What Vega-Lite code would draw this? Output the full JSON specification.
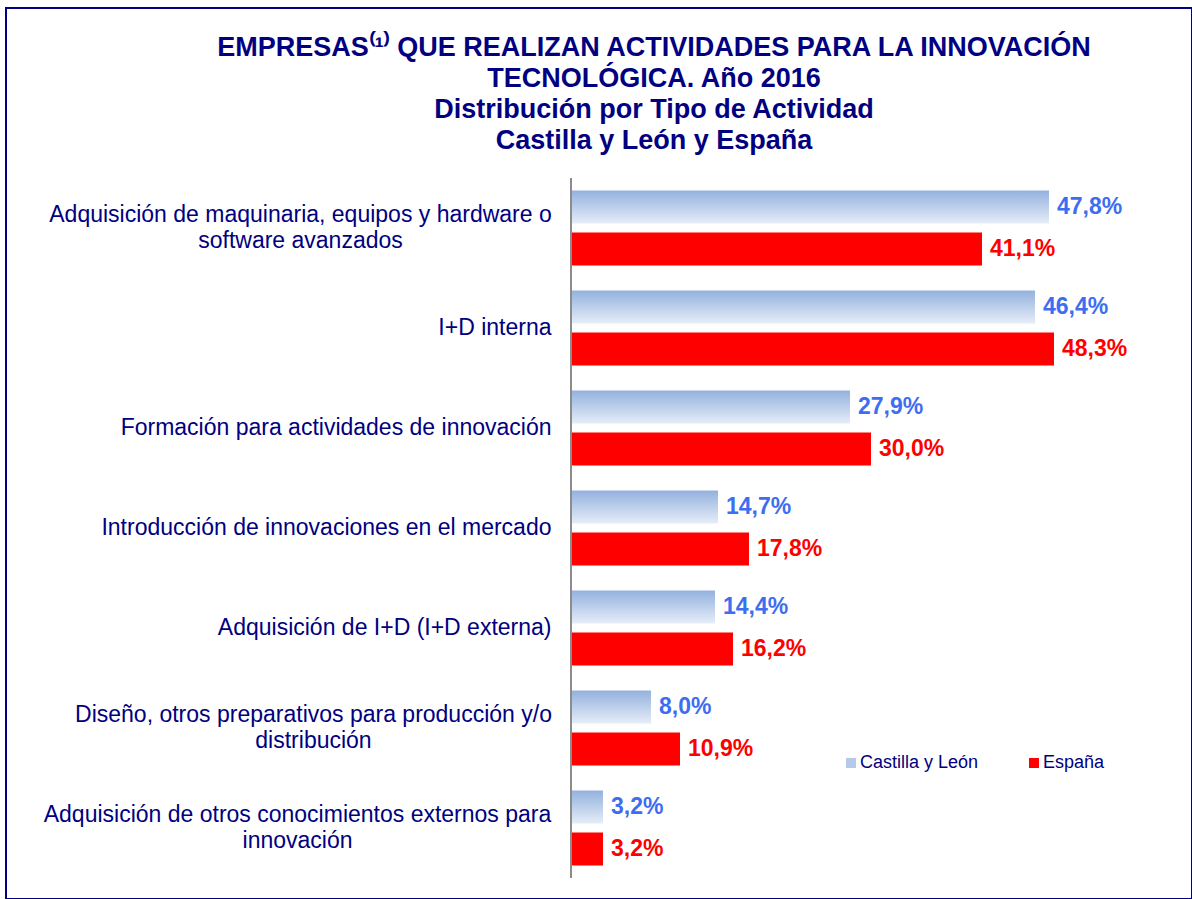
{
  "$schema": "https://vega.github.io/schema/vega-lite/v6.json",
  "width": 1186,
  "height": 891,
  "autosize": {"type": "none"},
  "padding": {"left": 6, "top": 8, "right": 0, "bottom": 0},
  "background": "white",
  "config": {
    "view": {"stroke": "#000080", "strokeWidth": 2},
    "font": "Liberation Sans",
    "locale": {"number": {"decimal": ",", "thousands": ".", "grouping": [3], "currency": ["", " €"]}}
  },
  "title": {
    "text": ["EMPRESAS⁽¹⁾ QUE REALIZAN ACTIVIDADES PARA LA INNOVACIÓN", "TECNOLÓGICA. Año 2016", "Distribución por Tipo de Actividad", "Castilla y León y España"],
    "anchor": "middle",
    "frame": "group",
    "dx": 55,
    "offset": -147,
    "fontSize": 27,
    "fontWeight": "bold",
    "color": "#000080",
    "lineHeight": 31,
    "font": "Liberation Sans"
  },
  "data": {
    "values": [
      {"actividad": "Adquisición de maquinaria, equipos y hardware o|software avanzados", "serie": "Castilla y León", "valor": 0.478},
      {"actividad": "Adquisición de maquinaria, equipos y hardware o|software avanzados", "serie": "España", "valor": 0.411},
      {"actividad": "I+D interna", "serie": "Castilla y León", "valor": 0.464},
      {"actividad": "I+D interna", "serie": "España", "valor": 0.483},
      {"actividad": "Formación para actividades de innovación", "serie": "Castilla y León", "valor": 0.279},
      {"actividad": "Formación para actividades de innovación", "serie": "España", "valor": 0.300},
      {"actividad": "Introducción de innovaciones en el mercado", "serie": "Castilla y León", "valor": 0.147},
      {"actividad": "Introducción de innovaciones en el mercado", "serie": "España", "valor": 0.178},
      {"actividad": "Adquisición de I+D (I+D externa)", "serie": "Castilla y León", "valor": 0.144},
      {"actividad": "Adquisición de I+D (I+D externa)", "serie": "España", "valor": 0.162},
      {"actividad": "Diseño, otros preparativos para producción y/o|distribución", "serie": "Castilla y León", "valor": 0.080},
      {"actividad": "Diseño, otros preparativos para producción y/o|distribución", "serie": "España", "valor": 0.109},
      {"actividad": "Adquisición de otros conocimientos externos para|innovación", "serie": "Castilla y León", "valor": 0.032},
      {"actividad": "Adquisición de otros conocimientos externos para|innovación", "serie": "España", "valor": 0.032}
    ]
  },
  "encoding": {
    "y": {
      "field": "actividad",
      "type": "nominal",
      "scale": {
        "domain": [
          "Adquisición de maquinaria, equipos y hardware o|software avanzados",
          "I+D interna",
          "Formación para actividades de innovación",
          "Introducción de innovaciones en el mercado",
          "Adquisición de I+D (I+D externa)",
          "Diseño, otros preparativos para producción y/o|distribución",
          "Adquisición de otros conocimientos externos para|innovación"
        ],
        "paddingInner": 0,
        "paddingOuter": 0.955,
        "align": 0.89
      },
      "axis": {
        "title": null,
        "orient": "left",
        "offset": -565,
        "domain": false,
        "ticks": false,
        "tickSize": 0,
        "grid": false,
        "labelExpr": "split(datum.label, '|')",
        "labelFontSize": 23,
        "labelFont": "Liberation Sans",
        "labelColor": "#000080",
        "labelLineHeight": 26,
        "labelLimit": 700,
        "labelOverlap": false,
        "labelBaseline": "middle",
        "labelAlign": {"condition": {"test": "indexof(datum.value, '|') >= 0", "value": "center"}, "value": "right"},
        "labelOffset": {"condition": {"test": "indexof(datum.value, '|') >= 0", "value": -13}, "value": 0},
        "labelPadding": {
          "condition": [
            {"test": "indexof(datum.value, 'maquinaria') >= 0", "value": 271},
            {"test": "indexof(datum.value, 'preparativos') >= 0", "value": 258},
            {"test": "indexof(datum.value, 'conocimientos') >= 0", "value": 274}
          ],
          "value": 20
        }
      }
    }
  },
  "layer": [
    {
      "transform": [{"filter": "datum.serie === 'Castilla y León'"}],
      "mark": {
        "type": "bar",
        "color": {
          "gradient": "linear", "x1": 0, "y1": 0, "x2": 0, "y2": 1,
          "stops": [{"offset": 0, "color": "#93b1de"}, {"offset": 1, "color": "#e6edf8"}]
        }
      },
      "encoding": {
        "x": {"field": "valor", "type": "quantitative", "scale": {"domain": [-0.565, 0.621], "nice": false, "zero": false}, "axis": null},
        "yOffset": {"field": "serie", "type": "nominal", "scale": {"domain": ["Castilla y León", "España"], "paddingInner": 0.214, "paddingOuter": 0.298}}
      }
    },
    {
      "transform": [{"filter": "datum.serie === 'España'"}],
      "mark": {"type": "bar"},
      "encoding": {
        "x": {"field": "valor", "type": "quantitative", "scale": {"domain": [-0.565, 0.621], "nice": false, "zero": false}, "axis": null},
        "yOffset": {"field": "serie", "type": "nominal", "scale": {"domain": ["Castilla y León", "España"], "paddingInner": 0.214, "paddingOuter": 0.298}},
        "color": {
          "field": "serie",
          "type": "nominal",
          "scale": {"domain": ["Castilla y León", "España"], "range": ["#b7c9ea", "#ff0000"]},
          "legend": {
            "orient": "none",
            "legendX": 836,
            "legendY": 746,
            "direction": "horizontal",
            "title": null,
            "symbolType": "square",
            "symbolSize": 100,
            "symbolStrokeWidth": 0,
            "symbolOpacity": 1,
            "labelFontSize": 18,
            "labelColor": "#000080",
            "labelFont": "Liberation Sans",
            "labelOffset": 0,
            "columnPadding": 46,
            "padding": 0
          }
        }
      }
    },
    {
      "transform": [{"filter": "datum.serie === 'Castilla y León'"}],
      "mark": {"type": "text", "align": "left", "baseline": "middle", "dx": 8, "fontSize": 23, "fontWeight": "bold", "color": "#3d6df0", "font": "Liberation Sans"},
      "encoding": {
        "x": {"field": "valor", "type": "quantitative", "scale": {"domain": [-0.565, 0.621], "nice": false, "zero": false}, "axis": null},
        "yOffset": {"field": "serie", "type": "nominal", "scale": {"domain": ["Castilla y León", "España"], "paddingInner": 0.214, "paddingOuter": 0.298}},
        "text": {"field": "valor", "type": "quantitative", "format": ".1%"}
      }
    },
    {
      "transform": [{"filter": "datum.serie === 'España'"}],
      "mark": {"type": "text", "align": "left", "baseline": "middle", "dx": 8, "fontSize": 23, "fontWeight": "bold", "color": "#ff0000", "font": "Liberation Sans"},
      "encoding": {
        "x": {"field": "valor", "type": "quantitative", "scale": {"domain": [-0.565, 0.621], "nice": false, "zero": false}, "axis": null},
        "yOffset": {"field": "serie", "type": "nominal", "scale": {"domain": ["Castilla y León", "España"], "paddingInner": 0.214, "paddingOuter": 0.298}},
        "text": {"field": "valor", "type": "quantitative", "format": ".1%"}
      }
    },
    {
      "transform": [{"filter": "datum.serie === 'España'"}],
      "mark": {"type": "tick", "color": "#8c8c8c", "thickness": 2, "size": 100, "opacity": 1},
      "encoding": {
        "x": {"datum": 0, "type": "quantitative"}
      }
    }
  ]
}
